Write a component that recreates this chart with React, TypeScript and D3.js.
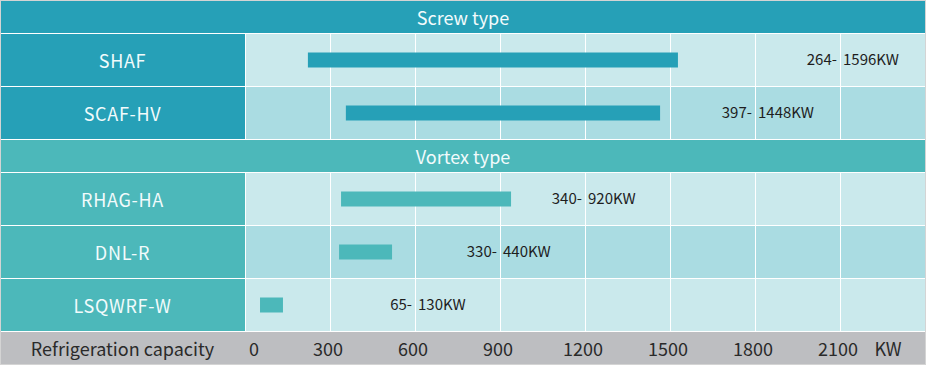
import * as d3 from "d3";
import { useEffect } from "react";

// chart data
const groups = ["Screw type", "Vortex type"];
const models = ["SHAF", "SCAF-HV", "RHAG-HA", "DNL-R", "LSQWRF-W"];
const modelGroup = [0, 0, 1, 1, 1];
// capacity range printed next to each bar (KW)
const capMin = [264, 397, 340, 330, 65];
const capMax = [1596, 1448, 920, 440, 130];
// bar extents as drawn in the picture (KW)
const barStart = [222, 356, 339, 332, 53];
const barEnd = [1528, 1465, 939, 519, 134];
// grid value the range text sits on
const labelTick = [2100, 1800, 1200, 900, 600];
const ticks = [0, 300, 600, 900, 1200, 1500, 1800, 2100];
const axisTitle = "Refrigeration capacity";
const unit = "KW";

const W = 926;
const H = 365;
const FONT = "'Noto Sans CJK SC', 'Noto Sans', sans-serif";
const groupColor = ["#26a0b7", "#4cb8ba"];
const rowFill = ["#cae9ec", "#aadce2"];

const App = () => {
  useEffect(() => {
    document.body.style.margin = "0";
  }, []);

  const x = d3.scaleLinear().domain([0, 2400]).range([245, 925]);
  const labelW = x(0);

  // build the stacked rows: group header then its models
  const headerH = 33;
  const rowH = 53;
  const rows: any[] = [];
  let y = 1;
  groups.forEach((g, gi) => {
    rows.push({ type: "header", y, h: headerH, gi, text: g });
    y += headerH;
    let k = 0;
    models.forEach((m, i) => {
      if (modelGroup[i] !== gi) return;
      rows.push({ type: "row", y, h: rowH, gi, i, k, text: m });
      y += rowH;
      k++;
    });
  });
  const axisY = y;
  const barH = 15;

  return (
    <svg width={W} height={H} style={{ display: "block", fontFamily: FONT }}>
      <rect x={0} y={0} width={W} height={H} fill="#ffffff" />
      {rows.map((r, idx) =>
        r.type === "header" ? (
          <g key={idx}>
            <rect x={0} y={r.y} width={W} height={r.h - 1} fill={groupColor[r.gi]} />
            <text x={W / 2} y={r.y + 24} textAnchor="middle" fontSize={18} fill="#f2fbfc">
              {r.text}
            </text>
          </g>
        ) : (
          <g key={idx}>
            <rect x={0} y={r.y} width={labelW} height={r.h - 1} fill={groupColor[r.gi]} />
            <text x={labelW / 2} y={r.y + 34} textAnchor="middle" fontSize={18} letterSpacing={0.7} fill="#f2fbfc">
              {r.text}
            </text>
            <rect x={labelW + 1} y={r.y} width={x(2400) - labelW - 1} height={r.h - 1} fill={rowFill[r.k % 2]} />
            {ticks.slice(1).map((t) => (
              <line key={t} x1={x(t) + 0.5} x2={x(t) + 0.5} y1={r.y} y2={r.y + r.h - 1} stroke="#ffffff" strokeWidth={1} />
            ))}
            <rect
              x={x(barStart[r.i])}
              y={r.y + (r.h - 1 - barH) / 2}
              width={x(barEnd[r.i]) - x(barStart[r.i])}
              height={barH}
              fill={groupColor[r.gi]}
            />
            <text x={x(labelTick[r.i]) - 3} y={r.y + 31} textAnchor="end" fontSize={15} fill="#1e1e1e">
              {capMin[r.i]}-
            </text>
            <text x={x(labelTick[r.i]) + 3} y={r.y + 31} textAnchor="start" fontSize={15} fill="#1e1e1e">
              {capMax[r.i]}
              {unit}
            </text>
          </g>
        )
      )}
      <rect x={0} y={axisY} width={W} height={H - axisY} fill="#bdbec1" />
      <text x={labelW / 2} y={axisY + 24} textAnchor="middle" fontSize={18} fill="#2a2a2a">
        {axisTitle}
      </text>
      {ticks.map((t) => (
        <text key={t} x={t === 0 ? x(t) + 9 : x(t) - 2} y={axisY + 24} textAnchor="middle" fontSize={18} fill="#2a2a2a">
          {t}
        </text>
      ))}
      <text x={x(2100) + 48} y={axisY + 24} textAnchor="middle" fontSize={18} fill="#2a2a2a">
        {unit}
      </text>
      <rect x={0.5} y={0.5} width={W - 1} height={H - 1} fill="none" stroke="#d4d4d4" strokeWidth={1} />
    </svg>
  );
};

export default App;
